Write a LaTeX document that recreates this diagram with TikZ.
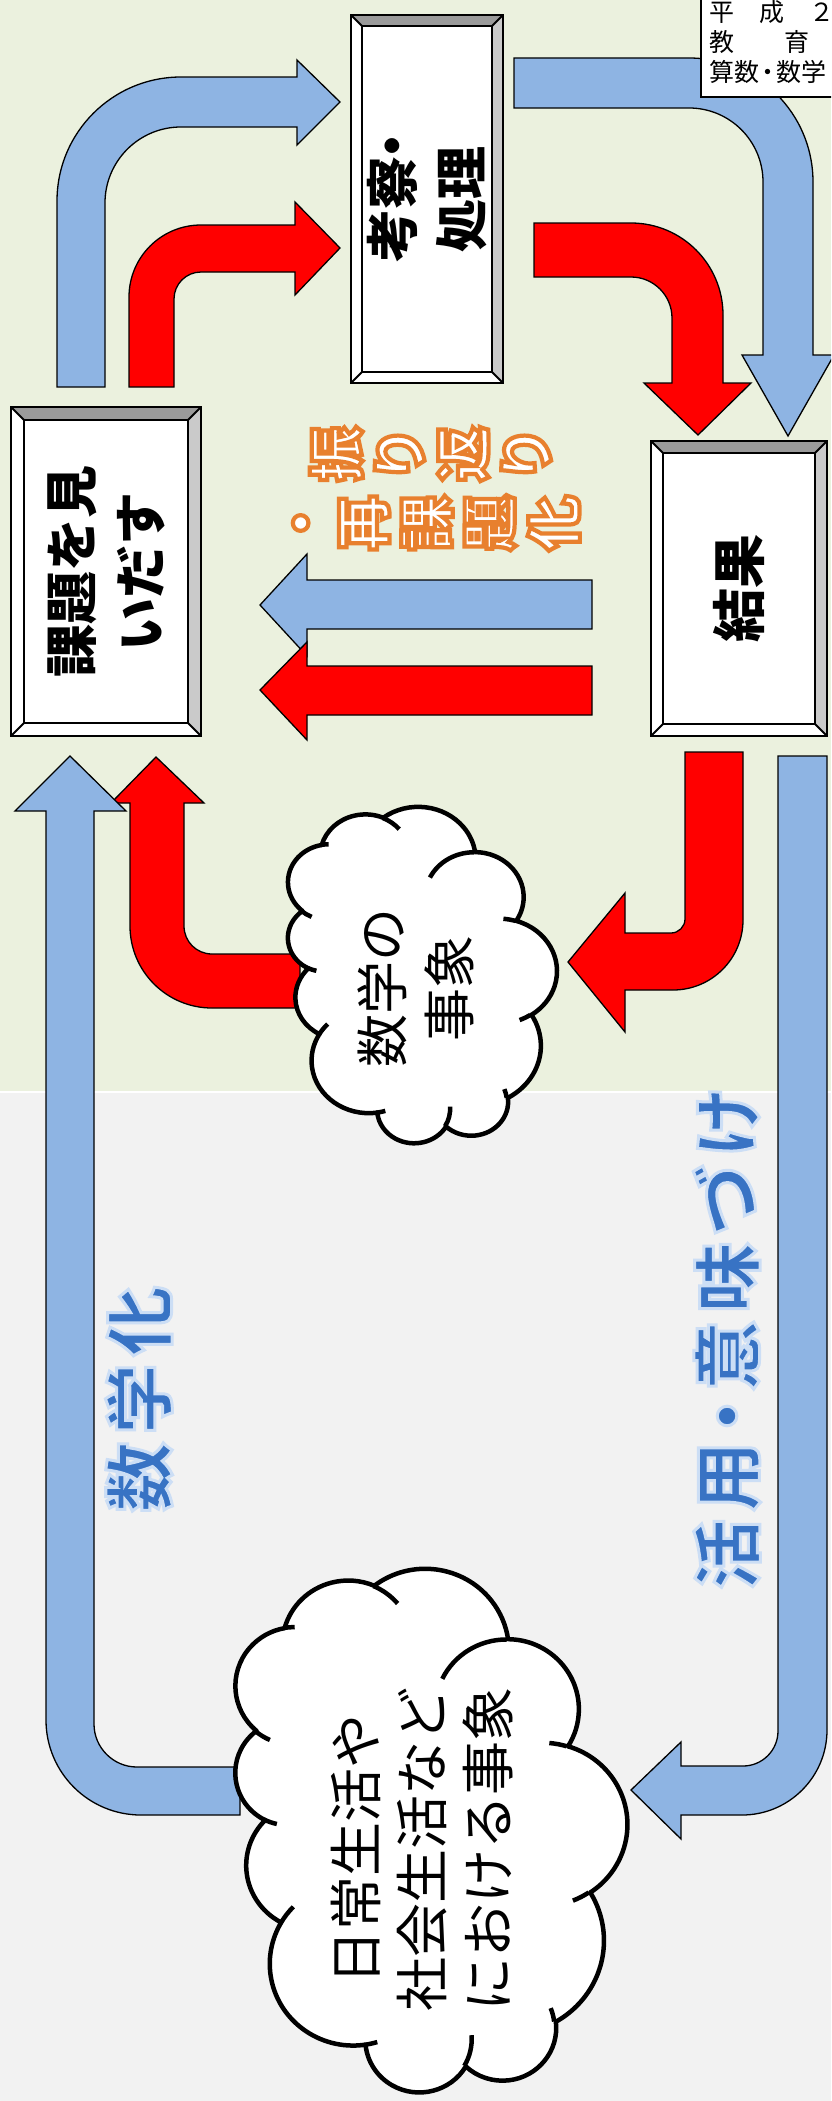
\documentclass[tikz,border=0pt]{standalone}
\usepackage{fontspec}
\usepackage{graphicx}
\newfontfamily\jp{Noto Sans CJK JP}
\definecolor{bggreen}{HTML}{EBF1DE}
\definecolor{bggray}{HTML}{F2F2F2}
\definecolor{arrblue}{HTML}{8EB4E3}
\definecolor{arrred}{HTML}{FF0000}
\definecolor{bevdark}{HTML}{9A9A9A}
\definecolor{bevlight}{HTML}{CACACA}
\definecolor{txtorange}{HTML}{EE8434}
\definecolor{txtblue}{HTML}{3C74C4}

\newcommand\nd[1][0.4em]{\makebox[#1]{・}}
\newcommand\rt[2]{\rotatebox{90}{\raisebox{-#1}[\height][\depth]{#2}}}
\newcommand\col[1]{\begin{tabular}{@{}c@{}}#1\end{tabular}}
% outlined text: stroke colour, stroke width, fill colour, text
\newcommand\outl[4]{\special{pdf:literal direct 2 Tr #2 w #1 RG #3 rg}#4\special{pdf:literal direct 0 Tr}}

% OOXML arcTo (visual angles) -> TikZ parametric arc angles
\newcommand\prep[5]{%
  \pgfmathsetmacro\tmpa{atan2((#2)*sin(#4),(#3)*cos(#4))}%
  \pgfmathsetmacro\tmpb{atan2((#2)*sin((#4)+(#5)),(#3)*cos((#4)+(#5)))}%
  \pgfmathsetmacro\tmpd{\tmpb-\tmpa-(#5)}%
  \pgfmathsetmacro\tmpd{\tmpd-360*round(\tmpd/360)+(#5)}%
  \expandafter\let\csname #1s\endcsname\tmpa
  \expandafter\let\csname #1d\endcsname\tmpd
}
\prep{cA}{67.53}{91.90}{-190.48748}{123.78053}
\prep{cB}{53.33}{72.67}{-144.10238}{89.94523}
\prep{cC}{43.65}{59.45}{-145.80792}{99.72302}
\prep{cD}{48.57}{65.95}{-130.98607}{117.24173}
\prep{cE}{53.33}{72.73}{-78.70888}{109.02692}
\prep{cF}{67.75}{92.20}{-46.26725}{130.26900}
\prep{cG}{57.85}{78.67}{0.62502}{114.03333}
\prep{cH}{67.52}{92.15}{22.45160}{115.17255}
\prep{cI}{77.20}{105.43}{66.24263}{75.71102}
\prep{cJ}{43.60}{59.18}{-274.94208}{146.73557}
\prep{cK}{43.45}{59.45}{-246.82850}{152.51885}
\prep{iA}{43.45}{59.45}{86.74200}{26.42950}
\prep{iB}{43.60}{59.18}{73.61047}{11.44747}
\prep{iC}{67.52}{92.15}{137.62415}{14.08110}
\prep{iD}{67.52}{92.15}{6.45327}{15.99835}
\prep{iE}{57.85}{78.67}{-70.29235}{70.91737}
\prep{iF}{53.33}{72.73}{30.31803}{27.75150}
\prep{iG}{48.57}{65.95}{-13.74433}{14.85890}
\prep{iH}{48.57}{65.95}{-149.18145}{18.19537}
\prep{iI}{43.65}{59.45}{-163.49427}{17.68635}
\prep{iJ}{67.53}{91.90}{-66.70695}{12.31935}
\prep{iK}{67.53}{91.90}{157.65435}{11.85817}

\newcommand\cloudpath{(39.00,143.70)
 arc[start angle=\cAs,delta angle=\cAd,x radius=67.53,y radius=91.90]
 arc[start angle=\cBs,delta angle=\cBd,x radius=53.33,y radius=72.67]
 arc[start angle=\cCs,delta angle=\cCd,x radius=43.65,y radius=59.45]
 arc[start angle=\cDs,delta angle=\cDd,x radius=48.57,y radius=65.95]
 arc[start angle=\cEs,delta angle=\cEd,x radius=53.33,y radius=72.73]
 arc[start angle=\cFs,delta angle=\cFd,x radius=67.75,y radius=92.20]
 arc[start angle=\cGs,delta angle=\cGd,x radius=57.85,y radius=78.67]
 arc[start angle=\cHs,delta angle=\cHd,x radius=67.52,y radius=92.15]
 arc[start angle=\cIs,delta angle=\cId,x radius=77.20,y radius=105.43]
 arc[start angle=\cJs,delta angle=\cJd,x radius=43.60,y radius=59.18]
 arc[start angle=\cKs,delta angle=\cKd,x radius=43.45,y radius=59.45]
 -- cycle}
\newcommand\cloudinner{
 (46.93,261.77) arc[start angle=\iAs,delta angle=\iAd,x radius=43.45,y radius=59.45]
 (69.28,348.99) arc[start angle=\iBs,delta angle=\iBd,x radius=43.60,y radius=59.18]
 (164.78,390.90) arc[start angle=\iCs,delta angle=\iCd,x radius=67.52,y radius=92.15]
 (288.27,347.51) arc[start angle=\iDs,delta angle=\iDd,x radius=67.52,y radius=92.15]
 (341.29,229.54) arc[start angle=\iEs,delta angle=\iEd,x radius=57.85,y radius=78.67]
 (417.98,153.54) arc[start angle=\iFs,delta angle=\iFd,x radius=53.33,y radius=72.73]
 (383.24,54.26) arc[start angle=\iGs,delta angle=\iGd,x radius=48.57,y radius=65.95]
 (290.78,39.52) arc[start angle=\iHs,delta angle=\iHd,x radius=48.57,y radius=65.95]
 (221.41,47.20) arc[start angle=\iIs,delta angle=\iId,x radius=43.65,y radius=59.45]
 (140.00,51.92) arc[start angle=\iJs,delta angle=\iJd,x radius=67.53,y radius=91.90]
 (41.27,157.89) arc[start angle=\iKs,delta angle=\iKd,x radius=67.53,y radius=91.90]}

\newcommand\bevel[2]{%
  \fill[bevdark] (#1.north west) -- (#1.north east) -- ([xshift=-#2,yshift=-#2]#1.north east) -- ([xshift=#2,yshift=-#2]#1.north west) -- cycle;
  \fill[bevlight] (#1.north east) -- (#1.south east) -- ([xshift=-#2,yshift=#2]#1.south east) -- ([xshift=-#2,yshift=-#2]#1.north east) -- cycle;
  \draw[bevline] (#1.north west) rectangle (#1.south east);
  \draw[bevline] ([xshift=#2,yshift=-#2]#1.north west) rectangle ([xshift=-#2,yshift=#2]#1.south east);
  \draw[bevline] (#1.north west) -- ([xshift=#2,yshift=-#2]#1.north west)
     (#1.north east) -- ([xshift=-#2,yshift=-#2]#1.north east)
     (#1.south east) -- ([xshift=-#2,yshift=#2]#1.south east)
     (#1.south west) -- ([xshift=#2,yshift=#2]#1.south west);
}

\tikzset{
 bluearr/.style={fill=arrblue,draw=black,line width=1.3pt},
 redarr/.style={fill=arrred,draw=black,line width=1.3pt},
 bevbox/.style={fill=white,inner sep=0pt,outer sep=0pt,font=\jp\bfseries\fontsize{53pt}{69pt}\selectfont},
 bevline/.style={draw=black,line width=1.8pt},
 cloudshape/.style={fill=white,draw=black,line width=4.5pt,line join=round},
 cloudline/.style={draw=black,line width=4.5pt},
 cloudtext/.style={inner sep=0pt,font=\jp\fontsize{53pt}{67pt}\selectfont},
 bluetext/.style={inner sep=0pt,text=txtblue,font=\jp\bfseries\fontsize{70pt}{70pt}\selectfont},
}

\begin{document}
\begin{tikzpicture}[x=1pt,y=-1pt]
\useasboundingbox (0,0) rectangle (831,2101);
\begin{scope}
\clip (0,0) rectangle (831,2101);
% background
\fill[bggreen] (0,0) rectangle (831,1092);
\fill[bggray] (0,1092) rectangle (831,2101);
\draw[white,line width=2pt] (0,1092) -- (831,1092);

% arrows top
\draw[bluearr] (57,387) -- (57,201) .. controls (57,132.5) and (112.5,77) .. (181,77) -- (297,77) -- (297,60) -- (340,102) -- (297,145) -- (297,127) -- (181,127) .. controls (139,127) and (105,161) .. (105,203) -- (105,387) -- cycle;
\draw[redarr] (129,387) -- (129,297) .. controls (129,257.2) and (161.2,225) .. (201,225) -- (295,225) -- (295,202) -- (340,248) -- (295,295) -- (295,272) -- (201,272) .. controls (186.1,272) and (174,284.1) .. (174,299) -- (174,387) -- cycle;
\draw[bluearr] (514,58) -- (689,58) .. controls (757.5,58) and (813,113.5) .. (813,182) -- (813,355) -- (834,355) -- (788,436) -- (742,355) -- (763,355) -- (763,182) .. controls (763,141.1) and (729.9,108) .. (689,108) -- (514,108) -- cycle;
\draw[redarr] (534,223) -- (631,223) .. controls (681.8,223) and (723,264.2) .. (723,315) -- (723,383) -- (751,383) -- (698,435) -- (644,383) -- (672,383) -- (672,318) .. controls (672,295.4) and (653.6,277) .. (631,277) -- (534,277) -- cycle;

% middle arrows
\draw[bluearr] (592,580) -- (307,580) -- (307,554) -- (260,605) -- (307,656) -- (307,629) -- (592,629) -- cycle;
\draw[redarr] (592,666) -- (307,666) -- (307,642) -- (260,690) -- (307,740) -- (307,715) -- (592,715) -- cycle;
\draw[redarr] (685,752) -- (743,752) -- (743,920) .. controls (743,958.7) and (711.7,990) .. (673,990) -- (625,990) -- (625,1032) -- (568,962) -- (625,893) -- (625,933) -- (671,933) .. controls (678.7,933) and (685,926.7) .. (685,919) -- cycle;
\draw[redarr] (300,954) -- (212,954) .. controls (196.5,954) and (184,941.5) .. (184,926) -- (184,803) -- (204,803) -- (156,757) -- (111,803) -- (130,803) -- (130,926) .. controls (130,971.3) and (166.7,1008) .. (212,1008) -- (300,1008) -- cycle;

% big loop arrows
\draw[bluearr] (240,1767) -- (137,1767) .. controls (113.3,1767) and (94,1747.7) .. (94,1724) -- (94,811) -- (126,811) -- (70,756) -- (15,811) -- (46,811) -- (46,1720) .. controls (46,1772.5) and (88.5,1815) .. (141,1815) -- (240,1815) -- cycle;
\draw[bluearr] (778,756) -- (827,756) -- (827,1730) .. controls (827,1776.9) and (788.9,1815) .. (742,1815) -- (681,1815) -- (681,1839) -- (631,1790) -- (681,1742) -- (681,1766) -- (743,1766) .. controls (762.3,1766) and (778,1750.3) .. (778,1731) -- cycle;

% clouds
\begin{scope}[shift={(287,1143)},x={(0pt,0.77778pt)},y={(0.62269pt,0pt)}]
  \path[cloudshape] \cloudpath;
  \draw[cloudline] \cloudinner;
\end{scope}
\begin{scope}[shift={(234,2092)},x={(0pt,1.21065pt)},y={(0.90741pt,0pt)}]
  \path[cloudshape] \cloudpath;
  \draw[cloudline] \cloudinner;
\end{scope}
\node[cloudtext] (suugaku) at (416,988) {\rt{6.7pt}{\col{数学の\\事象}}};
\node[cloudtext,font=\jp\fontsize{54pt}{66pt}\selectfont] (nichijou) at (421.5,1849) {\rt{7.3pt}{\col{日常生活や\\社会生活など\\における事象}}};

% boxes
\node[bevbox,minimum width=152pt,minimum height=368pt] (kousatsu) at (427,199) {\rt{6.3pt}{\col{考察\nd\\処理}}};
\bevel{kousatsu}{11pt}
\node[bevbox,minimum width=190pt,minimum height=329pt] (kadai) at (106,571.5) {\rt{6.3pt}{\col{課題を見\\いだす}}};
\bevel{kadai}{13pt}
\node[bevbox,minimum width=176pt,minimum height=295pt,font=\jp\bfseries\fontsize{54pt}{69pt}\selectfont] (kekka) at (739,588.5) {\rotatebox{90}{結果}};
\bevel{kekka}{12pt}

% table corner
\draw[fill=white,draw=black,line width=1.5pt] (701,-5) rectangle (840,97);
\node[anchor=north west,align=left,inner sep=0pt,font=\jp\fontsize{25pt}{30pt}\selectfont] (hyou) at (709,0) {平　成　２\\教　　育\\算数\nd[0.7em]数学};

% labels
\node[inner sep=0pt,text=txtorange,font=\jp\bfseries\fontsize{56pt}{57pt}\selectfont] (furikaeri) at (427,488.5) {\rt{9.9pt}{\outl{0.91 0.50 0.18}{4.2}{1 1 1}{\begin{tabular}{@{}c@{\hspace{13pt}}c@{}}\col{・\\再\\課\\題\\化} & \col{振\\り\\返\\り}\end{tabular}}}};
\node[bluetext] (suugakuka) at (139,1399) {\rotatebox{90}{\outl{0.80 0.87 0.96}{3}{0.22 0.45 0.77}{数\kern8pt学\kern8pt化}}};
\node[bluetext] (katsuyou) at (727,1338) {\rotatebox{90}{\outl{0.80 0.87 0.96}{3}{0.22 0.45 0.77}{活\kern8pt用\kern8pt\nd[0.5em]\kern8pt意\kern8pt味\kern8ptづ\kern8ptけ}}};
\end{scope}
\end{tikzpicture}
\end{document}
